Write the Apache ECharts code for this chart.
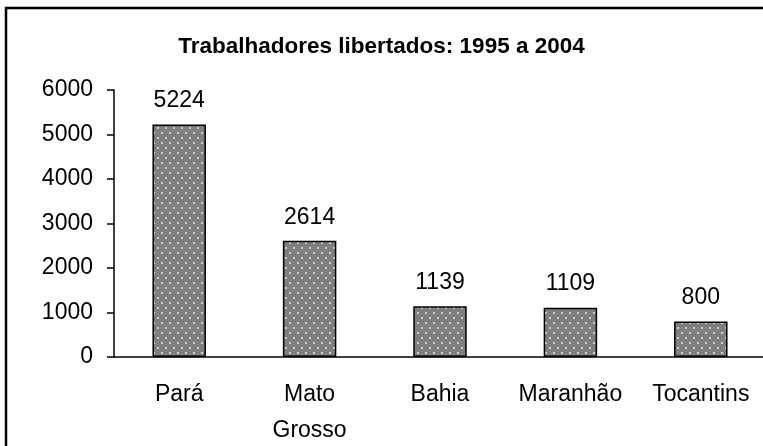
<!DOCTYPE html>
<html>
<head>
<meta charset="utf-8">
<script src="https://cdn.jsdelivr.net/npm/echarts@6/dist/echarts.min.js"></script>
<style>
  html, body { margin: 0; padding: 0; background: #fff; }
  #chart { width: 763px; height: 446px; }
</style>
</head>
<body>
<div id="chart"></div>
<script>
const states = ['Pará', 'Mato\nGrosso', 'Bahia', 'Maranhão', 'Tocantins'];
const workers = [5224, 2614, 1139, 1109, 800];
const yTicks = [0, 1000, 2000, 3000, 4000, 5000, 6000];

// dotted gray fill like the old spreadsheet pattern
function dotPattern() {
  const c = document.createElement('canvas');
  c.width = 8;
  c.height = 10;
  const ctx = c.getContext('2d');
  ctx.fillStyle = '#7f7f7f';
  ctx.fillRect(0, 0, 8, 10);
  ctx.fillStyle = '#cfcfcf';
  ctx.fillRect(1, 2, 2, 2);
  ctx.fillRect(5, 7, 2, 2);
  return c;
}

const chart = echarts.init(document.getElementById('chart'));
chart.setOption({
  animation: false,
  textStyle: { fontFamily: 'Liberation Sans, Arial, sans-serif' },
  title: {
    text: 'Trabalhadores libertados: 1995 a 2004',
    left: 'center',
    top: 30,
    textStyle: { fontFamily: 'Liberation Sans', fontWeight: 'bold', fontSize: 22.5, color: '#000' }
  },
  graphic: [{
    type: 'rect',
    shape: { x: 6, y: 8, width: 800, height: 500 },
    style: { fill: 'none', stroke: '#000', lineWidth: 2.5 },
    silent: true
  }],
  grid: { left: 114, right: -3, top: 90, bottom: 89, outerBoundsMode: 'none' },
  xAxis: {
    type: 'category',
    data: states,
    axisLine: { lineStyle: { color: '#000', width: 1.5 } },
    axisTick: { length: 8, lineStyle: { color: '#000', width: 1.5 } },
    axisLabel: { color: '#000', fontSize: 23, margin: 20, lineHeight: 36, interval: 0 }
  },
  yAxis: {
    type: 'value',
    min: yTicks[0],
    max: yTicks[yTicks.length - 1],
    interval: 1000,
    splitLine: { show: false },
    axisLine: { show: true, lineStyle: { color: '#000', width: 1.5 } },
    axisTick: { show: true, length: 7, lineStyle: { color: '#000', width: 1.5 } },
    axisLabel: { color: '#000', fontSize: 23, margin: 21, formatter: v => String(v) }
  },
  series: [{
    type: 'bar',
    data: workers,
    barWidth: '41%',
    itemStyle: {
      color: { image: dotPattern(), repeat: 'repeat' },
      borderColor: '#000',
      borderWidth: 1.5
    },
    label: {
      show: true,
      position: 'top',
      distance: 12,
      color: '#000',
      fontSize: 23
    }
  }]
});
</script>
</body>
</html>
